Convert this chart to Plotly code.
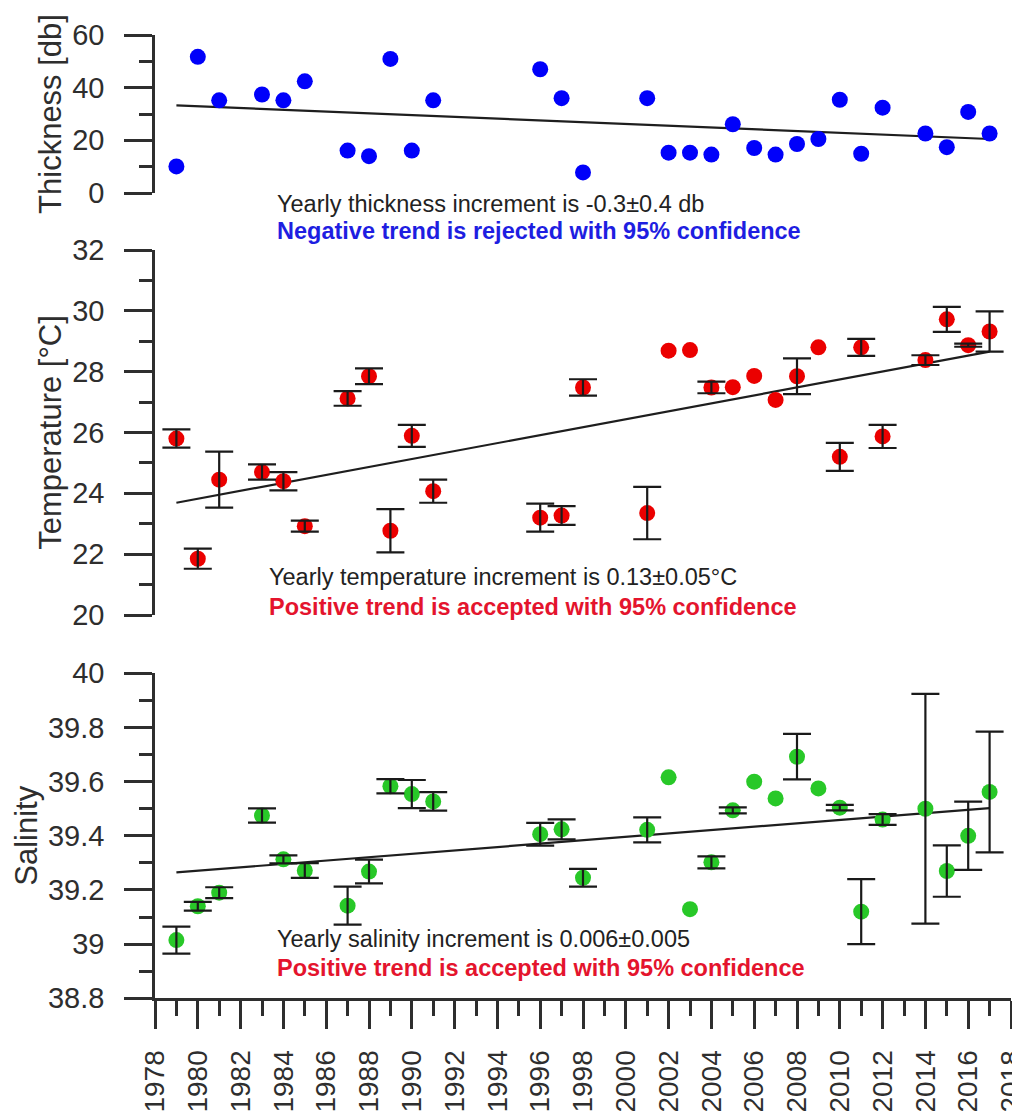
import plotly.graph_objects as go

# ---------------- data ----------------
years = [1979, 1980, 1981, 1983, 1984, 1985, 1987, 1988, 1989, 1990, 1991,
         1996, 1997, 1998, 2001, 2002, 2003, 2004, 2005, 2006, 2007, 2008,
         2009, 2010, 2011, 2012, 2014, 2015, 2016, 2017]

thickness = [10.1, 51.7, 35.2, 37.4, 35.2, 42.4, 16.1, 14.0, 50.9, 16.1, 35.2,
             47.0, 36.0, 7.8, 36.0, 15.3, 15.3, 14.6, 26.1, 17.1, 14.6, 18.6,
             20.5, 35.4, 14.9, 32.4, 22.6, 17.4, 30.8, 22.6]

temperature = [25.8, 21.85, 24.45, 24.7, 24.4, 22.92, 27.12, 27.85, 22.77, 25.89, 24.07,
               23.2, 23.27, 27.48, 23.35, 28.69, 28.71, 27.48, 27.49, 27.86, 27.07, 27.85,
               28.80, 25.2, 28.8, 25.87, 28.38, 29.72, 28.87, 29.32]
temperature_err = [0.3, 0.33, 0.92, 0.25, 0.3, 0.18, 0.24, 0.26, 0.71, 0.36, 0.38,
                   0.46, 0.31, 0.27, 0.86, None, None, 0.19, None, None, None, 0.59,
                   None, 0.46, 0.28, 0.38, 0.16, 0.41, 0.05, 0.66]

salinity = [39.015, 39.14, 39.19, 39.475, 39.313, 39.272, 39.142, 39.268, 39.583, 39.554, 39.527,
            39.406, 39.424, 39.245, 39.422, 39.616, 39.129, 39.302, 39.494, 39.60, 39.538, 39.692,
            39.575, 39.504, 39.12, 39.46, 39.50, 39.27, 39.40, 39.562]
salinity_err = [0.05, 0.016, 0.02, 0.026, 0.015, 0.027, 0.07, 0.044, 0.026, 0.052, 0.034,
                0.042, 0.037, 0.033, 0.046, None, None, 0.022, 0.011, None, None, 0.084,
                None, 0.01, 0.12, 0.02, 0.424, 0.095, 0.126, 0.223]

trend_years = [1979, 2017]
thickness_trend = [33.3, 20.5]
temperature_trend = [23.69, 28.66]
salinity_trend = [39.265, 39.502]

x_tick_labels = [str(y) for y in range(1978, 2019, 2)]

texts = {
    "thick1": "Yearly thickness increment is -0.3\u00b10.4 db",
    "thick2": "<b>Negative trend is rejected with 95% confidence</b>",
    "temp1": "Yearly temperature increment is 0.13\u00b10.05\u00b0C",
    "temp2": "<b>Positive trend is accepted with 95% confidence</b>",
    "sal1": "Yearly salinity increment is 0.006\u00b10.005",
    "sal2": "<b>Positive trend is accepted with 95% confidence</b>",
}

# ---------------- style ----------------
W, H = 1012, 1116
FONT = "Liberation Sans, Arial, sans-serif"
AX = "#2e2e2e"
BLUE = "rgb(0,0,250)"
RED = "rgb(235,0,0)"
GREEN = "rgb(40,200,40)"
TXT_BLUE = "rgb(30,30,225)"
TXT_RED = "rgb(228,20,45)"
ML, MR = 155, 1
PW = W - ML - MR


def py(pix):
    return 1 - pix / H


fig = go.Figure()

panels = [
    ("y", thickness, None, thickness_trend, BLUE),
    ("y2", temperature, temperature_err, temperature_trend, RED),
    ("y3", salinity, salinity_err, salinity_trend, GREEN),
]
for yax, vals, errs, trend, col in panels:
    fig.add_trace(go.Scatter(x=trend_years, y=trend, mode="lines", yaxis=yax,
                             line=dict(color="#1e1e1e", width=2.2),
                             showlegend=False, hoverinfo="skip"))
    fig.add_trace(go.Scatter(x=years, y=vals, mode="markers", yaxis=yax,
                             marker=dict(color=col, size=16, line=dict(width=0)),
                             cliponaxis=False, showlegend=False))
    if errs is not None:
        ex = [x for x, e in zip(years, errs) if e is not None]
        ey = [v for v, e in zip(vals, errs) if e is not None]
        ee = [e for e in errs if e is not None]
        fig.add_trace(go.Scatter(x=ex, y=ey, mode="markers", yaxis=yax,
                                 marker=dict(size=0, opacity=0),
                                 error_y=dict(type="data", array=ee, visible=True,
                                              color="#1a1a1a", thickness=2.2, width=14),
                                 cliponaxis=False, showlegend=False, hoverinfo="skip"))

tickfont = dict(family=FONT, size=29, color=AX)
xtickfont = dict(family=FONT, size=28, color=AX)
titlefont = dict(family=FONT, size=31, color=AX)


def yaxis(domain, rng, dtick, minor_dtick, title, standoff):
    return dict(domain=domain, range=rng, anchor="x", showline=True, linecolor=AX,
                linewidth=2.5, ticks="outside", ticklen=28, tickwidth=2.5, tickcolor=AX,
                dtick=dtick, tick0=rng[0], showgrid=False, zeroline=False,
                automargin=False, tickfont=tickfont, ticklabelstandoff=14,
                minor=dict(dtick=minor_dtick, ticks="outside", ticklen=13,
                           tickwidth=2.5, tickcolor=AX, showgrid=False),
                title=dict(text=title, font=titlefont, standoff=standoff))


fig.update_layout(
    width=W, height=H,
    margin=dict(l=ML, r=MR, t=0, b=0, autoexpand=False),
    paper_bgcolor="white", plot_bgcolor="white",
    showlegend=False,
    xaxis=dict(range=[1978, 2018], anchor="y3", showline=True, linecolor=AX,
               linewidth=2.5, ticks="outside", ticklen=28, tickwidth=2.5, tickcolor=AX,
               tickmode="array", tickvals=[int(t) for t in x_tick_labels],
               ticktext=x_tick_labels, tickangle=-90, tickfont=xtickfont,
               ticklabelstandoff=10, ticklabeloverflow="allow", automargin=False,
               showgrid=False, zeroline=False,
               minor=dict(dtick=1, tick0=1978, ticks="outside", ticklen=15,
                          tickwidth=2.5, tickcolor=AX, showgrid=False)),
    yaxis=yaxis([py(193), py(35)], [0, 60], 20, 10, "Thickness [db]", 2),
    yaxis2=yaxis([py(615), py(250)], [20, 32], 2, 1, "Temperature [\u00b0C]", 2),
    yaxis3=yaxis([py(998.3), py(673.3)], [38.8, 40], 0.2, 0.1, "Salinity", 2),
)

ann = [
    ("thick1", 276, 204, "#222222"),
    ("thick2", 276, 231, TXT_BLUE),
    ("temp1", 268, 577, "#222222"),
    ("temp2", 268, 607, TXT_RED),
    ("sal1", 276, 939, "#222222"),
    ("sal2", 276, 968, TXT_RED),
]
for key, px, pyy, col in ann:
    fig.add_annotation(text=texts[key], xref="paper", yref="paper",
                       x=(px - ML) / PW, y=py(pyy), xanchor="left",
                       yanchor="middle", showarrow=False, borderpad=0,
                       font=dict(family=FONT, size=23.5, color=col))

fig.write_html(
    "out.html",
    config={"displayModeBar": False},
    post_script="document.body.style.margin='0';document.body.style.overflow='hidden';",
)
